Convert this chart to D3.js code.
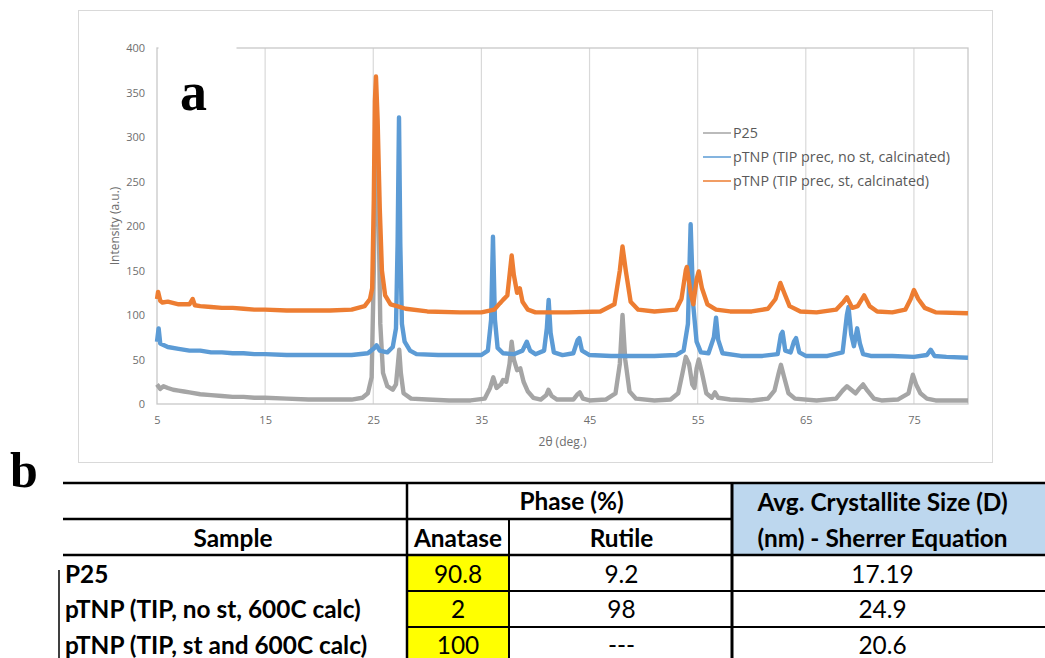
<!DOCTYPE html>
<html>
<head>
<meta charset="utf-8">
<script src="https://cdn.jsdelivr.net/npm/d3@7/dist/d3.min.js"></script>
<style>
  html, body { margin: 0; padding: 0; background: #fff; }
  svg { display: block; }
</style>
</head>
<body>
<svg id="fig" width="1045" height="658"></svg>
<script>
// ---- XRD patterns: [2θ (deg), intensity (a.u.)] ----
const xTicks = [5, 15, 25, 35, 45, 55, 65, 75];
const yTicks = [0, 50, 100, 150, 200, 250, 300, 350, 400];

const seriesNames = [
  "P25",
  "pTNP (TIP prec, no st, calcinated)",
  "pTNP (TIP prec, st, calcinated)"
];
const seriesColors = ["#a5a5a5", "#5b9bd5", "#ed7d31"];

const p25 = [
  [5,22],[5.3,17],[5.6,20],[6,18],[6.5,16],[7,15],[7.5,14],[8,13],[9,11],[10,10],[11,9],[12,8],[13,8],[14,7],[15,7],
  [17,6],[19,5],[21,5],[23,5],[24,7],[24.5,12],[24.85,30],[25.05,150],[25.25,340],[25.45,250],[25.65,90],[25.9,35],
  [26.3,20],[26.8,16],[27.1,22],[27.28,45],[27.4,61],[27.55,35],[27.8,12],[28.5,6],[30,5],[32,4],[34,4],
  [35.3,6],[35.8,18],[36.1,30],[36.4,18],[36.8,22],[37.0,27],[37.3,25],[37.6,45],[37.8,70],[38.0,50],[38.3,38],
  [38.6,40],[38.9,25],[39.3,14],[39.8,7],[40.5,5],[41.0,10],[41.2,16],[41.5,9],[42,5],[43.5,5],[43.9,11],[44.1,13],
  [44.4,6],[45,4],[46.5,5],[47.4,12],[47.8,45],[48.05,100],[48.3,50],[48.7,14],[49.3,6],[51,4],[52.5,5],[53.2,12],
  [53.6,35],[53.9,53],[54.2,45],[54.5,22],[54.7,18],[54.9,40],[55.1,50],[55.4,35],[55.8,12],[56.3,7],[56.6,13],
  [56.9,7],[58,5],[60,4],[61.5,6],[62.1,15],[62.5,35],[62.7,44],[63.0,30],[63.4,12],[64,6],[66,4],[67.8,6],
  [68.4,15],[68.8,20],[69.2,16],[69.6,12],[70.0,18],[70.3,22],[70.7,15],[71.3,6],[72,4],[73.5,5],[74.5,12],
  [74.9,33],[75.2,22],[75.6,12],[76.2,6],[77,4],[80,4]
];

const pTNPnoSt = [
  [5,70],[5.15,85],[5.3,68],[6,64],[7,62],[8,60],[9,60],[10,58],[11,58],[12,57],[13,57],[14,56],[15,56],
  [17,55],[19,55],[21,55],[23,55],[24.5,57],[25.1,63],[25.3,66],[25.6,60],[26.3,58],[26.8,64],[27.1,85],
  [27.25,180],[27.38,322],[27.5,180],[27.65,90],[27.9,70],[28.4,60],[29,56],[31,55],[33,55],[35,55],
  [35.6,60],[35.9,95],[36.07,188],[36.25,95],[36.5,63],[37,57],[38,56],[38.8,60],[39.2,70],[39.5,60],[40,56],
  [40.8,60],[41.05,85],[41.22,117],[41.4,80],[41.7,58],[42.5,55],[43.5,57],[43.9,72],[44.05,74],[44.3,60],
  [45,55],[47,54],[49,54],[51,54],[53,55],[53.7,60],[54.1,90],[54.35,202],[54.6,110],[54.9,70],[55.3,58],
  [56,57],[56.5,75],[56.7,97],[56.9,72],[57.3,57],[59,54],[61,54],[62.4,56],[62.7,78],[62.85,81],[63.1,60],
  [63.6,58],[63.9,70],[64.1,74],[64.4,58],[65,54],[67,54],[68.4,58],[68.8,100],[68.95,109],[69.2,78],
  [69.45,65],[69.75,85],[70.0,68],[70.3,56],[71,54],[73,54],[75,53],[76.2,55],[76.55,61],[76.9,54],[78,53],[80,52]
];

const pTNPst = [
  [5,118],[5.1,126],[5.3,116],[5.5,114],[6,115],[7,112],[8,112],[8.3,118],[8.5,111],[9,110],[10,109],[11,108],
  [12,108],[13,107],[14,106],[15,106],[17,105],[19,105],[21,105],[23,106],[24.2,110],[24.7,118],[24.9,130],
  [25.05,230],[25.15,340],[25.25,368],[25.4,320],[25.6,220],[25.8,150],[26.1,122],[26.6,112],[27.2,110],[28,107],
  [30,104],[33,103],[35,103],[36.2,106],[36.7,113],[37.0,117],[37.4,122],[37.65,150],[37.8,167],[38.0,145],
  [38.3,125],[38.55,130],[38.8,115],[39.3,106],[40,103],[43,103],[46,104],[47.3,112],[47.8,150],[48.05,177],
  [48.35,150],[48.8,115],[49.5,106],[51,104],[53,106],[53.5,118],[53.9,150],[54.0,154],[54.35,125],[54.6,112],
  [54.9,140],[55.1,149],[55.4,130],[55.9,112],[56.7,106],[58,104],[60,104],[61.5,107],[62.2,118],[62.65,136],
  [63.0,125],[63.5,110],[64.5,104],[66,103],[67.8,106],[68.5,115],[68.8,120],[69.3,108],[69.8,110],[70.4,122],
  [70.9,110],[71.6,104],[73,103],[74.2,106],[74.7,118],[75.0,128],[75.4,118],[76.0,108],[77,103],[80,102]
];

const patterns = [p25, pTNPnoSt, pTNPst];

// ---- Table b ----
const sampleNames = ["P25", "pTNP (TIP, no st, 600C calc)", "pTNP (TIP, st and 600C calc)"];
const anatase = ["90.8", "2", "100"];
const rutile = ["9.2", "98", "---"];
const crystalliteSize = ["17.19", "24.9", "20.6"];

const svg = d3.select("#fig");

// ================= Panel a: XRD chart =================
const chartFont = "'Open Sans', 'Noto Sans', sans-serif";
const plot = { left: 157, right: 968, top: 48, bottom: 404 };

const x = d3.scaleLinear().domain([5, 80]).range([plot.left, plot.right]);
const y = d3.scaleLinear().domain([0, 400]).range([plot.bottom, plot.top]);

// chart frame
svg.append("rect")
  .attr("x", 78.5).attr("y", 10.5).attr("width", 914).attr("height", 452)
  .attr("fill", "#fff").attr("stroke", "#d9d9d9").attr("stroke-width", 1);

const defs = svg.append("defs");
defs.append("filter").attr("id", "soft")
  .append("feGaussianBlur").attr("stdDeviation", 0.7);

// vertical gridlines
svg.append("g").selectAll("line").data(xTicks.slice(1)).join("line")
  .attr("x1", d => x(d)).attr("x2", d => x(d))
  .attr("y1", plot.top).attr("y2", plot.bottom)
  .attr("stroke", "#d9d9d9").attr("stroke-width", 1.2);

// plot border
svg.append("rect")
  .attr("x", plot.left).attr("y", plot.top)
  .attr("width", plot.right - plot.left).attr("height", plot.bottom - plot.top)
  .attr("fill", "none").attr("stroke", "#c8c8c8").attr("stroke-width", 1.3);

// series
const line = d3.line().x(d => x(d[0])).y(d => y(d[1]));
const seriesG = svg.append("g").attr("filter", "url(#soft)");
patterns.forEach((data, i) => {
  seriesG.append("path")
    .datum(data)
    .attr("d", line)
    .attr("fill", "none")
    .attr("stroke", seriesColors[i])
    .attr("stroke-width", 4.4)
    .attr("stroke-linejoin", "round");
});

// axes
const yAxis = d3.axisLeft(y).tickValues(yTicks).tickSize(0).tickPadding(12);
const gy = svg.append("g").attr("transform", `translate(${plot.left},0)`).call(yAxis);
gy.select(".domain").remove();
gy.selectAll("text").attr("font-family", chartFont).attr("font-size", 11).attr("fill", "#6e6e6e");

const xAxis = d3.axisBottom(x).tickValues(xTicks).tickSize(0).tickPadding(12);
const gx = svg.append("g").attr("transform", `translate(0,${plot.bottom})`).call(xAxis);
gx.select(".domain").remove();
gx.selectAll("text").attr("font-family", chartFont).attr("font-size", 11).attr("fill", "#6e6e6e");

// axis titles
svg.append("text")
  .attr("x", (plot.left + plot.right) / 2).attr("y", 446)
  .attr("text-anchor", "middle")
  .attr("font-family", chartFont).attr("font-size", 12).attr("fill", "#6e6e6e")
  .text("2θ (deg.)");
svg.append("text")
  .attr("transform", `translate(119,${(plot.top + plot.bottom) / 2}) rotate(-90)`)
  .attr("text-anchor", "middle")
  .attr("font-family", chartFont).attr("font-size", 12).attr("fill", "#6e6e6e")
  .text("Intensity (a.u.)");

// legend
const legend = svg.append("g").attr("transform", "translate(703,133)");
seriesNames.forEach((name, i) => {
  const g = legend.append("g").attr("transform", `translate(0,${i * 24})`);
  g.append("line").attr("x1", 0).attr("x2", 28).attr("y1", 0).attr("y2", 0)
    .attr("stroke", seriesColors[i]).attr("stroke-width", 1.5);
  g.append("text").attr("x", 30).attr("y", 0).attr("dy", "0.35em")
    .attr("font-family", chartFont).attr("font-size", 14.3).attr("fill", "#595959")
    .text(name);
});

// panel label a (sits on a white box over the plot corner)
svg.append("rect").attr("x", 158.5).attr("y", 42).attr("width", 78).attr("height", 80).attr("fill", "#fff");
svg.append("text")
  .attr("x", 180).attr("y", 110)
  .attr("font-family", "'Liberation Serif', 'DejaVu Serif', serif")
  .attr("font-weight", "bold").attr("font-size", 54).attr("fill", "#000")
  .text("a");

// ================= Panel b: table =================
svg.append("text")
  .attr("x", 10).attr("y", 487)
  .attr("font-family", "'Liberation Serif', 'DejaVu Serif', serif")
  .attr("font-weight", "bold").attr("font-size", 50).attr("fill", "#000")
  .text("b");

const tableFont = "Lato, 'Open Sans', sans-serif";
const col = { left: 63, c1: 407, c2: 509, c3: 732, right: 1045 };
const row = { top: 483, mid: 519, head: 555, r1: 591, r2: 627, bottom: 658 };

const tb = svg.append("g");
// header fills
tb.append("rect").attr("x", col.c3).attr("y", row.top).attr("width", col.right - col.c3)
  .attr("height", row.head - row.top).attr("fill", "#bdd7ee");
tb.append("rect").attr("x", col.c1).attr("y", row.head).attr("width", col.c2 - col.c1)
  .attr("height", row.bottom - row.head).attr("fill", "#ffff00");

function hline(x1, x2, yy, w) {
  tb.append("line").attr("x1", x1).attr("x2", x2).attr("y1", yy).attr("y2", yy)
    .attr("stroke", "#000").attr("stroke-width", w);
}
function vline(xx, y1, y2, w) {
  tb.append("line").attr("x1", xx).attr("x2", xx).attr("y1", y1).attr("y2", y2)
    .attr("stroke", "#000").attr("stroke-width", w);
}
hline(col.left, col.right, row.top, 2.5);
hline(col.left, col.c3, row.mid, 2.5);
hline(col.left, col.right, row.head, 2.5);
hline(col.c1, col.right, row.r1, 2);
hline(col.c1, col.right, row.r2, 2);
vline(col.c1, row.top, row.bottom, 2.5);
vline(col.c2, row.mid, row.bottom, 2);
vline(col.c3, row.top, row.bottom, 3);
vline(59, 570, row.bottom, 1.5);

function cellText(tx, ty, str, bold, anchor) {
  tb.append("text").attr("x", tx).attr("y", ty).attr("dy", "0.35em")
    .attr("text-anchor", anchor || "middle")
    .attr("font-family", tableFont).attr("font-size", 24.4)
    .attr("font-weight", bold ? "bold" : "normal").attr("fill", "#000")
    .text(str);
}
cellText((col.c1 + col.c3) / 2 + 2, 501, "Phase (%)", true);
cellText((col.c3 + col.right) / 2 - 6, 502, "Avg. Crystallite Size (D)", true);
cellText((col.c3 + col.right) / 2 - 6, 538, "(nm) - Sherrer Equation", true);
cellText(233, 538, "Sample", true);
cellText((col.c1 + col.c2) / 2, 538, "Anatase", true);
cellText((col.c2 + col.c3) / 2 + 1, 538, "Rutile", true);

const rowCenters = [574, 609, 645];
sampleNames.forEach((s, i) => {
  cellText(65, rowCenters[i], s, true, "start");
  cellText((col.c1 + col.c2) / 2, rowCenters[i], anatase[i], false);
  cellText((col.c2 + col.c3) / 2 + 1, rowCenters[i], rutile[i], false);
  cellText((col.c3 + col.right) / 2 - 6, rowCenters[i], crystalliteSize[i], false);
});
</script>
</body>
</html>
